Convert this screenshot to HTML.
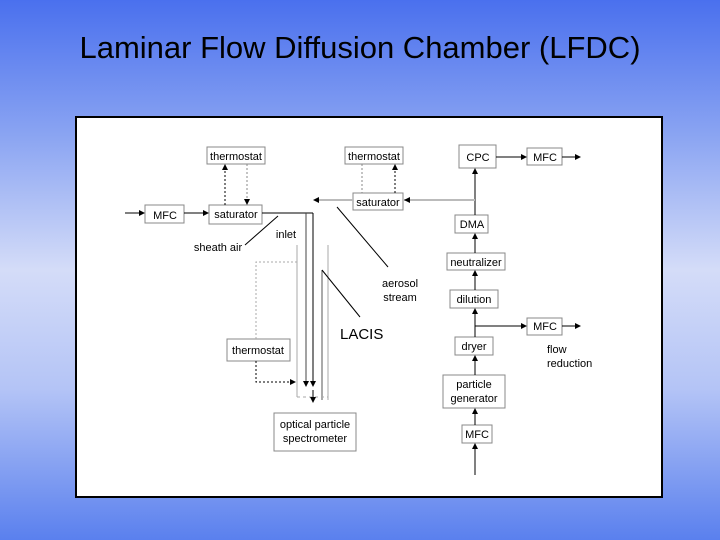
<!DOCTYPE html>
<html><head><style>
html,body{margin:0;padding:0}
body{width:720px;height:540px;overflow:hidden;background:linear-gradient(to bottom,#4a70ee 0%,#8aa4f2 25%,#d4dcf8 50%,#b4c4f6 72%,#5a80ee 100%);font-family:"Liberation Sans",sans-serif;position:relative}
.t{position:absolute;top:30px;left:0;width:720px;text-align:center;font-size:31px;color:#000}
svg{position:absolute;left:0;top:0}
</style></head><body>
<div class="t">Laminar Flow Diffusion Chamber (LFDC)</div>
<svg width="720" height="540" font-family="Liberation Sans, sans-serif" font-size="11">
<defs><marker id="a" markerWidth="6" markerHeight="6" refX="5" refY="3" orient="auto" markerUnits="userSpaceOnUse"><path d="M0,0L6,3L0,6z" fill="#000"/></marker></defs>
<rect x="76" y="117" width="586" height="380" fill="#fff" stroke="#000" stroke-width="2"/>
<g fill="#fff" stroke="#888" stroke-width="1">
<rect x="207" y="147" width="58" height="17"/>
<rect x="345" y="147" width="58" height="17"/>
<rect x="145" y="205" width="39" height="18"/>
<rect x="209" y="205" width="53" height="19"/>
<rect x="353" y="193" width="50" height="17"/>
<rect x="227" y="339" width="63" height="22"/>
<rect x="274" y="413" width="82" height="38"/>
<rect x="459" y="145" width="37" height="23"/>
<rect x="527" y="148" width="35" height="17"/>
<rect x="455" y="215" width="33" height="18"/>
<rect x="447" y="253" width="58" height="17"/>
<rect x="450" y="290" width="48" height="18"/>
<rect x="527" y="318" width="35" height="17"/>
<rect x="455" y="337" width="38" height="18"/>
<rect x="443" y="375" width="62" height="33"/>
<rect x="462" y="425" width="30" height="18"/>
</g>
<g fill="none" stroke="#000" stroke-width="1">
<line x1="125" y1="213" x2="144" y2="213" marker-end="url(#a)"/>
<line x1="184" y1="213" x2="208" y2="213" marker-end="url(#a)"/>
<line x1="262" y1="213" x2="313" y2="213"/>
<line x1="225" y1="205" x2="225" y2="165" stroke-dasharray="2,2" marker-end="url(#a)"/>
<line x1="247" y1="164" x2="247" y2="204" stroke-dasharray="2,2" stroke="#888" marker-end="url(#a)"/>
<line x1="362" y1="164" x2="362" y2="193" stroke-dasharray="2,2" stroke="#888"/>
<line x1="395" y1="193" x2="395" y2="165" stroke-dasharray="2,2" marker-end="url(#a)"/>
<line x1="313" y1="213" x2="313" y2="386" marker-end="url(#a)"/>
<line x1="306" y1="213" x2="306" y2="386" stroke="#444" marker-end="url(#a)"/>
<line x1="322" y1="270" x2="322" y2="400" stroke="#555"/>
<line x1="297" y1="245" x2="297" y2="397" stroke="#aaa"/>
<line x1="328" y1="245" x2="328" y2="400" stroke="#aaa"/>
<line x1="297" y1="397" x2="328" y2="397" stroke="#aaa" stroke-dasharray="3,3"/>
<line x1="313" y1="390" x2="313" y2="402" marker-end="url(#a)"/>
<polyline points="297,262 256,262 256,339" stroke="#aaa" stroke-dasharray="2,2"/>
<polyline points="256,361 256,382 295,382" stroke-dasharray="2,2" marker-end="url(#a)"/>
<line x1="245" y1="245" x2="278" y2="216"/>
<line x1="337" y1="207" x2="388" y2="267"/>
<line x1="322" y1="270" x2="360" y2="317"/>
<line x1="475" y1="475" x2="475" y2="444" marker-end="url(#a)"/>
<line x1="475" y1="425" x2="475" y2="409" marker-end="url(#a)"/>
<line x1="475" y1="375" x2="475" y2="356" marker-end="url(#a)"/>
<line x1="475" y1="337" x2="475" y2="309" marker-end="url(#a)"/>
<line x1="475" y1="290" x2="475" y2="271" marker-end="url(#a)"/>
<line x1="475" y1="253" x2="475" y2="234" marker-end="url(#a)"/>
<line x1="475" y1="215" x2="475" y2="169" marker-end="url(#a)"/>
<line x1="475" y1="326" x2="526" y2="326" marker-end="url(#a)"/>
<line x1="562" y1="326" x2="580" y2="326" marker-end="url(#a)"/>
<line x1="496" y1="157" x2="526" y2="157" marker-end="url(#a)"/>
<line x1="562" y1="157" x2="580" y2="157" marker-end="url(#a)"/>
</g>
<g fill="none" stroke="#bbb" stroke-width="2">
<line x1="475" y1="200" x2="404" y2="200"/>
<line x1="353" y1="200" x2="315" y2="200"/>
</g>
<path d="M404,200l6,-3v6z" fill="#000"/>
<path d="M313,200l6,-3v6z" fill="#000"/>
<g fill="#000" text-anchor="middle">
<text x="236" y="160">thermostat</text>
<text x="374" y="160">thermostat</text>
<text x="165" y="219">MFC</text>
<text x="236" y="218">saturator</text>
<text x="378" y="206">saturator</text>
<text x="258" y="354">thermostat</text>
<text x="315" y="428">optical particle</text>
<text x="315" y="442">spectrometer</text>
<text x="478" y="161">CPC</text>
<text x="545" y="161">MFC</text>
<text x="472" y="228">DMA</text>
<text x="476" y="266">neutralizer</text>
<text x="474" y="303">dilution</text>
<text x="545" y="330">MFC</text>
<text x="474" y="350">dryer</text>
<text x="474" y="388">particle</text>
<text x="474" y="402">generator</text>
<text x="477" y="438">MFC</text>
<text x="286" y="238">inlet</text>
<text x="218" y="251">sheath air</text>
<text x="400" y="287">aerosol</text>
<text x="400" y="301">stream</text>
</g>
<text x="340" y="339" font-size="15">LACIS</text>
<text x="547" y="353">flow</text>
<text x="547" y="367">reduction</text>
</svg>
</body></html>
